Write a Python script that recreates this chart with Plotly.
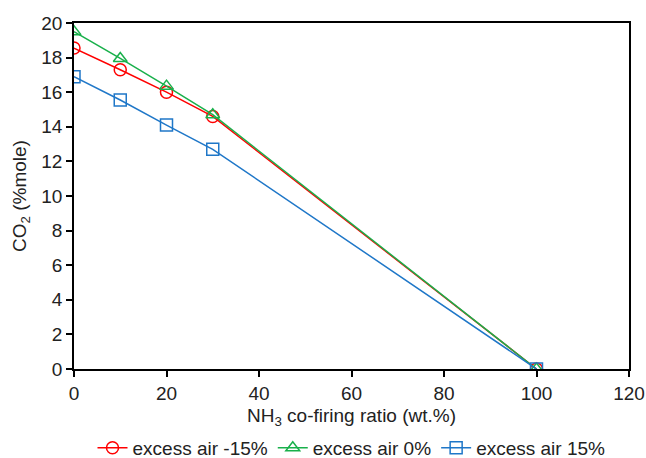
import plotly.graph_objects as go

x_ratio = [0, 10, 20, 30, 100]
co2_m15 = [18.55, 17.3, 16.0, 14.6, 0.0]
co2_0 = [19.5, 17.95, 16.35, 14.7, 0.0]
co2_p15 = [16.9, 15.55, 14.1, 12.7, 0.0]
names = ["excess air -15%", "excess air 0%", "excess air 15%"]
colors = ["#FF0000", "#19B04B", "#1F77C8"]
symbols = ["circle-open", "triangle-up-open", "square-open"]

fig = go.Figure()
for ys, n, c, s in zip([co2_m15, co2_0, co2_p15], names, colors, symbols):
    fig.add_trace(go.Scatter(x=x_ratio, y=ys, name=n, mode="lines+markers",
                             line=dict(color=c, width=1.5),
                             marker=dict(symbol=s, size=12, color=c, line=dict(width=1.5, color=c))))

font = "Liberation Sans, Arial, sans-serif"
tf = dict(family=font, size=19, color="#222")
fig.update_layout(
    width=646, height=458,
    margin=dict(l=74, r=17, t=23, b=89, autoexpand=False),
    paper_bgcolor="white", plot_bgcolor="white",
    font=tf,
    legend=dict(orientation="h", x=0.5, xanchor="center", y=-0.228, yanchor="middle",
                font=tf, itemwidth=30, tracegroupgap=0),
    xaxis=dict(range=[0, 120], dtick=20, showgrid=False, zeroline=False, automargin=False,
               showline=True, linecolor="black", linewidth=1.5, mirror=True,
               ticks="outside", ticklen=6, tickcolor="black", tickwidth=1.5, tickfont=tf,
               title=dict(text="NH<sub>3</sub> co-firing ratio (wt.%)", standoff=6, font=tf)),
    yaxis=dict(range=[0, 20], dtick=2, showgrid=False, zeroline=False, automargin=False,
               showline=True, linecolor="black", linewidth=1.5, mirror=True,
               ticks="outside", ticklen=6, tickcolor="black", tickwidth=1.5, tickfont=tf,
               title=dict(text="CO<sub>2</sub> (%mole)", standoff=10, font=tf)),
)
fig.write_html("out.html", config={"displayModeBar": False},
               post_script="document.body.style.margin='0';document.body.style.overflow='hidden';")
